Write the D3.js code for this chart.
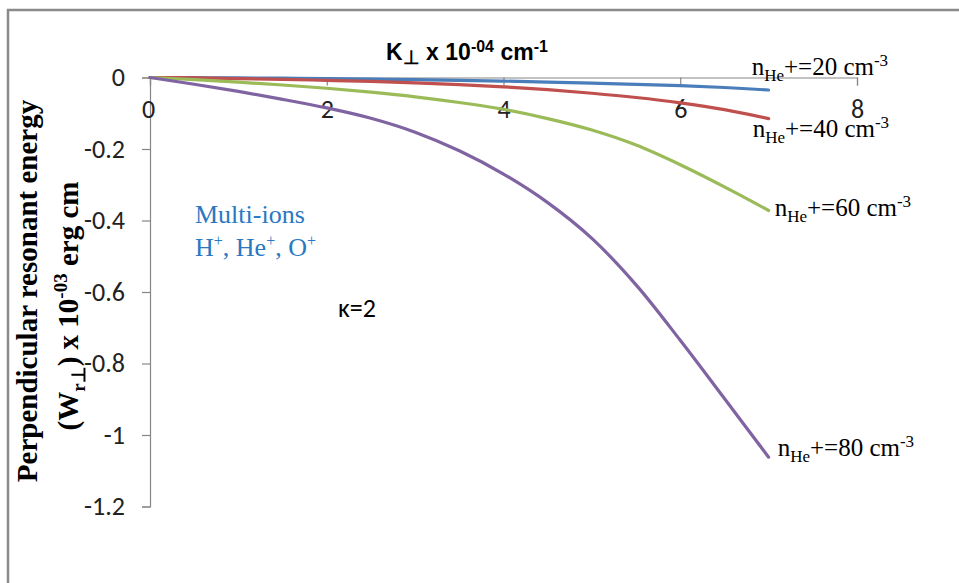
<!DOCTYPE html>
<html>
<head>
<meta charset="utf-8">
<script src="https://cdn.jsdelivr.net/npm/d3@7"></script>
<style>
  body { margin: 0; background: #fff; }
</style>
</head>
<body>
<div id="chart"></div>
<script>
// wave number values (x 10^-04 cm^-1)
var kPerp = [0, 0.5, 1, 1.5, 2, 2.5, 3, 3.5, 4, 4.5, 5, 5.5, 6, 6.5, 7];

// perpendicular resonant energy for each He+ density
var wHe20 = [0, -0.0005, -0.001, -0.002, -0.003, -0.0045, -0.006, -0.008, -0.01, -0.013, -0.016, -0.019, -0.023, -0.028, -0.035];
var wHe40 = [0, -0.001, -0.003, -0.005, -0.008, -0.011, -0.015, -0.02, -0.026, -0.034, -0.044, -0.056, -0.071, -0.09, -0.115];
var wHe60 = [0, -0.006, -0.013, -0.021, -0.03, -0.041, -0.054, -0.07, -0.089, -0.115, -0.147, -0.189, -0.244, -0.306, -0.372];
var wHe80 = [0, -0.019, -0.039, -0.061, -0.085, -0.114, -0.153, -0.205, -0.27, -0.35, -0.45, -0.58, -0.735, -0.898, -1.062];

var densities = ["20", "40", "60", "80"];
var xTicks = [0, 2, 4, 6, 8];
var yTicks = [0, -0.2, -0.4, -0.6, -0.8, -1, -1.2];
var yTickLabels = ["0", "-0.2", "-0.4", "-0.6", "-0.8", "-1", "-1.2"];

var width = 959, height = 583;

var svg = d3.select("#chart").append("svg")
    .attr("width", width)
    .attr("height", height);

// chart area border (runs off the right and bottom edge)
svg.append("rect")
    .attr("x", 8).attr("y", 10)
    .attr("width", 1000).attr("height", 600)
    .attr("fill", "none")
    .attr("stroke", "#8a8a8a")
    .attr("stroke-width", 2.5);

var x = d3.scaleLinear().domain([0, 8]).range([150, 857]);
var y = d3.scaleLinear().domain([-1.2, 0]).range([506.5, 77.5]);

var color = d3.scaleOrdinal()
    .domain(densities)
    .range(["#4a7ebb", "#c0504d", "#9bbb59", "#8064a2"]);

var tickFont = "Carlito, Calibri, Lato, sans-serif";

// y axis
var yAxis = svg.append("g")
    .attr("transform", "translate(" + x(0) + ",0)")
    .call(d3.axisLeft(y).tickValues(yTicks).tickSize(8).tickPadding(17)
        .tickFormat(function (d, i) { return yTickLabels[i]; }));
yAxis.select(".domain").attr("stroke", "#868686").attr("stroke-width", 1.2);
yAxis.selectAll(".tick line").attr("stroke", "#868686").attr("stroke-width", 1.2);
yAxis.selectAll(".tick text")
    .style("font-family", tickFont)
    .style("font-size", "26px")
    .attr("fill", "#222");

// x axis sits at y = 0
var xAxis = svg.append("g")
    .attr("transform", "translate(0," + y(0) + ")")
    .call(d3.axisBottom(x).tickValues(xTicks).tickSize(8).tickPadding(14)
        .tickFormat(d3.format("d")));
xAxis.select(".domain").attr("stroke", "#868686").attr("stroke-width", 1.2);
xAxis.selectAll(".tick line").attr("stroke", "#868686").attr("stroke-width", 1.2);
xAxis.selectAll(".tick text")
    .style("font-family", tickFont)
    .style("font-size", "26px")
    .attr("fill", "#222")
    .attr("dx", function (d) { return d === 0 ? -2 : 0; });

// series
var seriesData = [wHe20, wHe40, wHe60, wHe80].map(function (vals, i) {
    return { key: densities[i], points: kPerp.map(function (k, j) { return [k, vals[j]]; }) };
});

var line = d3.line()
    .x(function (d) { return x(d[0]); })
    .y(function (d) { return y(d[1]); })
    .curve(d3.curveCatmullRom.alpha(0.5));

svg.selectAll("path.series")
    .data(seriesData)
    .enter()
    .append("path")
    .attr("class", "series")
    .attr("d", function (d) { return line(d.points); })
    .attr("fill", "none")
    .attr("stroke", function (d) { return color(d.key); })
    .attr("stroke-width", 3.2)
    .attr("stroke-linecap", "round");

// series labels next to line ends
var labelOffset = { "20": [-17, -15], "40": [-16, 18], "60": [6, 6], "80": [9, -1] };
var labels = svg.selectAll("text.serieslabel")
    .data(seriesData)
    .enter()
    .append("text")
    .attr("class", "serieslabel")
    .attr("x", function (d) { var e = d.points[d.points.length - 1]; return x(e[0]) + labelOffset[d.key][0]; })
    .attr("y", function (d) { var e = d.points[d.points.length - 1]; return y(e[1]) + labelOffset[d.key][1]; })
    .style("font-family", "'Liberation Serif', 'Times New Roman', serif")
    .style("font-size", "25px")
    .attr("fill", "#000");
labels.append("tspan").text("n");
labels.append("tspan").attr("dy", 6).style("font-size", "17px").text("He");
labels.append("tspan").attr("dy", -6).text(function (d) { return "+=" + d.key + " cm"; });
labels.append("tspan").attr("dy", -9).style("font-size", "17px").text("-3");

// title (x axis label)
var title = svg.append("text")
    .attr("x", 467).attr("y", 60)
    .attr("text-anchor", "middle")
    .style("font-family", "'Liberation Sans', Arial, sans-serif")
    .style("font-weight", "bold")
    .style("font-size", "23px")
    .attr("fill", "#000");
title.append("tspan").text("K");
title.append("tspan").attr("dy", 4).style("font-size", "19px").text("\u22A5");
title.append("tspan").attr("dy", -4).text(" x 10");
title.append("tspan").attr("dy", -8).style("font-size", "16px").text("-04");
title.append("tspan").attr("dy", 8).text(" cm");
title.append("tspan").attr("dy", -8).style("font-size", "16px").text("-1");

// y axis label (two lines, rotated)
svg.append("text")
    .attr("transform", "translate(37,291) rotate(-90)")
    .attr("text-anchor", "middle")
    .style("font-family", "'Liberation Serif', 'Times New Roman', serif")
    .style("font-weight", "bold")
    .style("font-size", "29px")
    .attr("fill", "#000")
    .text("Perpendicular resonant energy");

var yl2 = svg.append("text")
    .attr("transform", "translate(78,306) rotate(-90)")
    .attr("text-anchor", "middle")
    .style("font-family", "'Liberation Serif', 'Times New Roman', serif")
    .style("font-weight", "bold")
    .style("font-size", "29px")
    .attr("fill", "#000");
yl2.append("tspan").text("(W");
yl2.append("tspan").attr("dy", 7).style("font-size", "19px").text("r\u22A5");
yl2.append("tspan").attr("dy", -7).text(") x 10");
yl2.append("tspan").attr("dy", -11).style("font-size", "19px").text("-03");
yl2.append("tspan").attr("dy", 11).text(" erg cm");

// annotations
svg.append("text")
    .attr("x", 195).attr("y", 223)
    .style("font-family", "'Liberation Serif', 'Times New Roman', serif")
    .style("font-size", "26px")
    .attr("fill", "#2a78c2")
    .text("Multi-ions");

var ions = svg.append("text")
    .attr("x", 195).attr("y", 256)
    .style("font-family", "'Liberation Serif', 'Times New Roman', serif")
    .style("font-size", "26px")
    .attr("fill", "#2a78c2");
ions.append("tspan").text("H");
ions.append("tspan").attr("dy", -10).style("font-size", "16px").text("+");
ions.append("tspan").attr("dy", 10).text(", He");
ions.append("tspan").attr("dy", -10).style("font-size", "16px").text("+");
ions.append("tspan").attr("dy", 10).text(", O");
ions.append("tspan").attr("dy", -10).style("font-size", "16px").text("+");

svg.append("text")
    .attr("x", 338).attr("y", 317)
    .style("font-family", tickFont)
    .style("font-size", "26px")
    .attr("fill", "#000")
    .text("\u03BA=2");
</script>
</body>
</html>
